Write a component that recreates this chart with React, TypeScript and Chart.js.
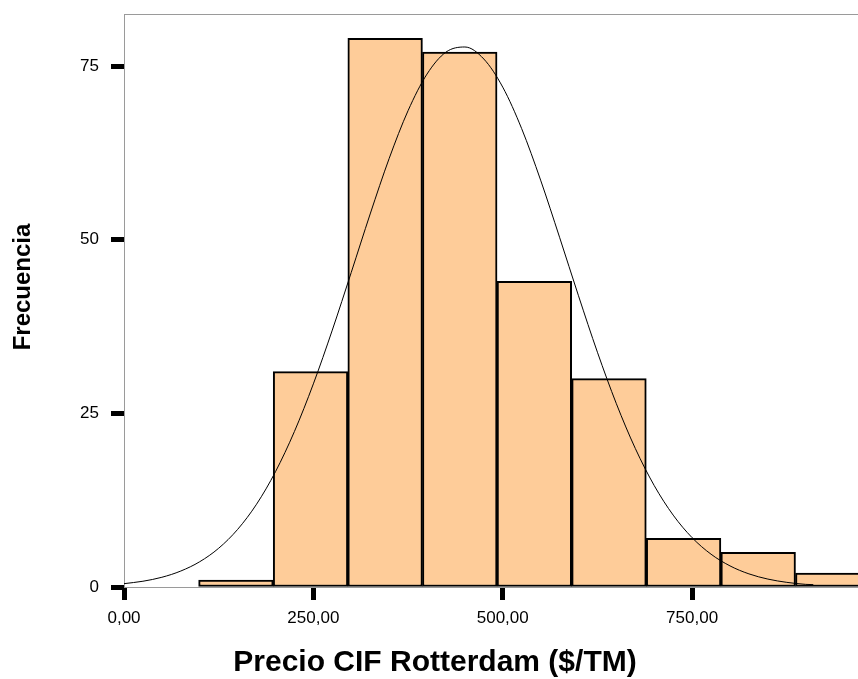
import React, { useEffect, useRef } from "react";
import { Chart, registerables } from "chart.js";

Chart.register(...registerables);

// Histogram bins (bin centers) and frequencies
const binCenters = [147.75, 246.25, 344.75, 443.25, 541.75, 640.25, 738.75, 837.25, 935.75];
const frequencies = [1, 31, 79, 77, 44, 30, 7, 5, 2];

// Normal curve points
const curveX = [0, 25, 50, 75, 100, 125, 150, 175, 200, 225, 250, 275, 300, 325, 350, 375, 400, 425, 450, 475, 500, 525, 550, 575, 600, 625, 650, 675, 700, 725, 750, 775, 800, 825, 850, 875, 900, 910];
const curveY = [0.48, 0.83, 1.4, 2.3, 3.64, 5.58, 8.29, 11.92, 16.6, 22.39, 29.25, 36.99, 45.29, 53.71, 61.68, 68.58, 73.85, 77.01, 77.75, 76.02, 71.97, 65.99, 58.58, 50.36, 41.93, 33.8, 26.39, 19.95, 14.6, 10.35, 7.1, 4.72, 3.04, 1.89, 1.14, 0.67, 0.38, 0.34];

const xTicks = [0, 250, 500, 750];
const yTicks = [0, 25, 50, 75];

const xTitle = "Precio CIF Rotterdam ($/TM)";
const yTitle = "Frecuencia";

const FONT = "'Liberation Sans', Arial, sans-serif";

export default function App() {
  const ref = useRef<HTMLCanvasElement | null>(null);

  useEffect(() => {
    if (!ref.current) return;

    const framePlugin = {
      id: "frame",
      beforeDatasetsDraw(chart: any) {
        const { ctx, chartArea: a } = chart;
        ctx.save();
        ctx.strokeStyle = "#9a9a9a";
        ctx.lineWidth = 1;
        ctx.strokeRect(a.left + 0.5, a.top + 0.5, a.right - a.left, a.bottom - a.top);
        ctx.restore();
      },
      afterDraw(chart: any) {
        const { ctx } = chart;
        ctx.save();
        ctx.fillStyle = "#000";
        ctx.font = `bold 30px ${FONT}`;
        ctx.textAlign = "center";
        ctx.textBaseline = "middle";
        ctx.fillText(xTitle, 435, 663);
        ctx.translate(23, 287);
        ctx.rotate(-Math.PI / 2);
        ctx.font = `bold 24px ${FONT}`;
        ctx.fillText(yTitle, 0, 0);
        ctx.restore();
      },
    };

    const chart = new Chart(ref.current, {
      type: "bar",
      data: {
        datasets: [
          {
            type: "line",
            data: curveX.map((x, i) => ({ x, y: curveY[i] })),
            borderColor: "#000",
            borderWidth: 1,
            pointRadius: 0,
            cubicInterpolationMode: "monotone",
            fill: false,
            order: 0,
          } as any,
          {
            type: "bar",
            data: binCenters.map((x, i) => ({ x, y: frequencies[i] })),
            backgroundColor: "#FECC99",
            borderColor: "#000",
            borderWidth: 2,
            borderSkipped: false,
            barPercentage: 1,
            categoryPercentage: 1,
            grouped: false,
            order: 1,
          } as any,
        ],
      },
      options: {
        responsive: false,
        animation: false,
        layout: { padding: { top: 14, left: 0, right: 0, bottom: 0 } },
        plugins: { legend: { display: false }, tooltip: { enabled: false } },
        scales: {
          x: {
            type: "linear",
            offset: false,
            min: 0,
            max: 969,
            afterBuildTicks: (s: any) => {
              s.ticks = xTicks.map((v) => ({ value: v }));
            },
            afterFit: (s: any) => {
              s.height = 92;
              s.paddingLeft = 0;
              s.paddingRight = 0;
            },
            ticks: {
              color: "#000",
              font: { family: FONT, size: 17 },
              padding: 8,
              maxRotation: 0,
              callback: (v: any) => Number(v).toFixed(2).replace(".", ","),
            },
            grid: {
              offset: false,
              drawOnChartArea: false,
              drawTicks: true,
              tickLength: 13,
              tickWidth: 5,
              tickColor: "#000",
            },
            border: { display: false },
          },
          y: {
            type: "linear",
            min: 0,
            max: 82.5,
            afterBuildTicks: (s: any) => {
              s.ticks = yTicks.map((v) => ({ value: v }));
            },
            afterFit: (s: any) => {
              s.width = 124;
              s.paddingTop = 0;
              s.paddingBottom = 0;
            },
            ticks: {
              color: "#000",
              font: { family: FONT, size: 17 },
              padding: 12,
              callback: (v: any) => String(v),
            },
            grid: {
              drawOnChartArea: false,
              drawTicks: true,
              tickLength: 13,
              tickWidth: 5,
              tickColor: "#000",
            },
            border: { display: false },
          },
        },
      },
      plugins: [framePlugin],
    });

    return () => chart.destroy();
  }, []);

  return (
    <div style={{ position: "fixed", left: 0, top: 0, width: 858, height: 679, background: "#fff" }}>
      <canvas ref={ref} width={858} height={679} style={{ width: 858, height: 679, display: "block" }} />
    </div>
  );
}
